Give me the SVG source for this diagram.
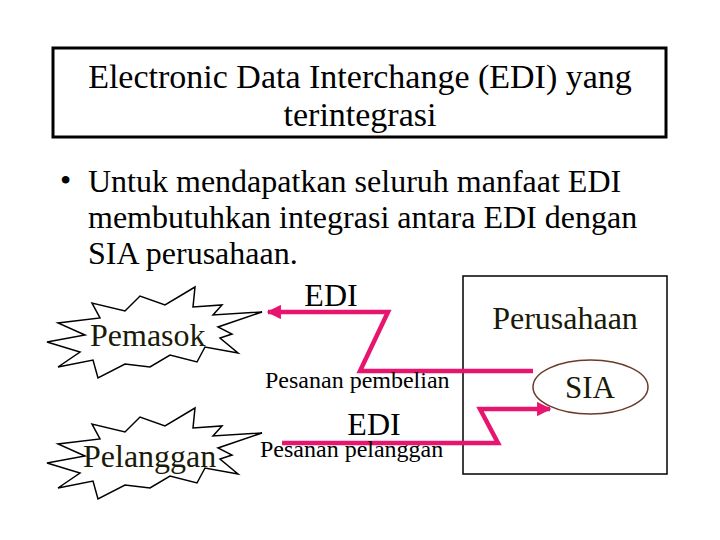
<svg xmlns="http://www.w3.org/2000/svg" width="720" height="540" viewBox="0 0 720 540">
<style>
.t{font-family:"Liberation Serif","Times New Roman",serif;fill:#000}
.dk{fill:#1a1a08}
.star{fill:#fff;stroke:#000;stroke-width:1.5;stroke-linejoin:miter}
.con{fill:none;stroke:#E8156E;stroke-width:4.5;stroke-linejoin:miter}
</style>
<defs>
<marker id="ah" viewBox="0 0 10 10" refX="9" refY="5" markerWidth="3.2" markerHeight="3.2" orient="auto-start-reverse" markerUnits="strokeWidth">
<path d="M0,0 L10,5 L0,10 Z" fill="#E8156E"/>
</marker>
<path id="starShape" d="M47,342 L85,335 L58,323 L100,318 L92,303 L125,311 L140,296 L165,305 L195,287 L193,307 L222,305 L213,315 L262,312 L218,327 L232,334 L220,338 L238,353 L205,347 L197,362 L170,355 L150,367 L125,364 L98,378 L93,360 L58,367 L80,352 Z"/>
</defs>
<rect width="720" height="540" fill="#fff"/>
<g id="title">
<rect x="53" y="48" width="613" height="89" fill="#fff" stroke="#000" stroke-width="3"/>
<text class="t" x="360" y="88" font-size="34" text-anchor="middle">Electronic Data Interchange (EDI) yang</text>
<text class="t" x="360" y="126" font-size="34" text-anchor="middle">terintegrasi</text>
</g>
<g id="bullet">
<text class="t" x="60" y="191" font-size="32">•</text>
<text class="t" x="88" y="192" font-size="32">Untuk mendapatkan seluruh manfaat EDI</text>
<text class="t" x="88" y="228" font-size="32">membutuhkan integrasi antara EDI dengan</text>
<text class="t" x="88" y="264" font-size="32">SIA perusahaan.</text>
</g>
<g id="perusahaan">
<rect x="463" y="276" width="204" height="198" fill="#fff" stroke="#000" stroke-width="1.5"/>
<text class="t dk" x="565" y="329" font-size="32" text-anchor="middle">Perusahaan</text>
</g>
<g id="sia">
<ellipse cx="590.5" cy="387" rx="57.5" ry="27" fill="#fff" stroke="#6b3a2a" stroke-width="1.5"/>
<text class="t dk" x="590" y="398" font-size="31" text-anchor="middle">SIA</text>
</g>
<g id="pemasok">
<use href="#starShape" class="star"/>
<text class="t dk" x="90" y="346" font-size="32">Pemasok</text>
</g>
<g id="pelanggan">
<use href="#starShape" class="star" transform="translate(0,121)"/>
<text class="t dk" x="83" y="467" font-size="32">Pelanggan</text>
</g>
<g id="connectors">
<path class="con" d="M533,371 L360,371 L388,312 L268,312" marker-end="url(#ah)"/>
<path class="con" d="M282,443 L498,443 L480,409 L550,409" marker-end="url(#ah)"/>
</g>
<g id="labels">
<text class="t" x="331" y="306" font-size="32" text-anchor="middle">EDI</text>
<text class="t" x="265" y="388" font-size="24">Pesanan pembelian</text>
<text class="t" x="374" y="435" font-size="32" text-anchor="middle">EDI</text>
<text class="t" x="260" y="457" font-size="24">Pesanan pelanggan</text>
</g>
</svg>
